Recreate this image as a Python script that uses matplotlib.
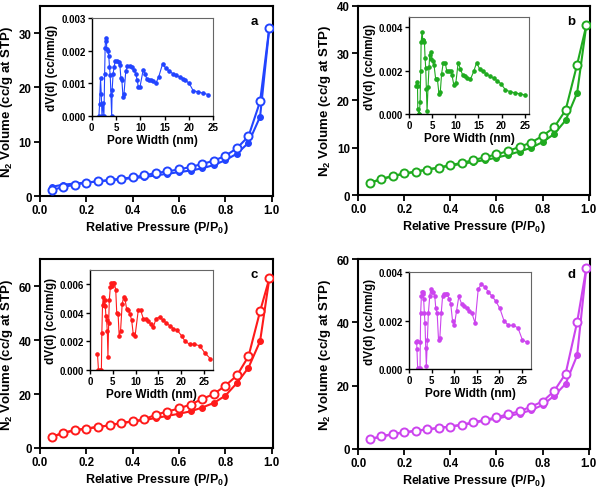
import matplotlib
matplotlib.use("Agg")
import matplotlib.pyplot as plt

plt.rcParams['font.family'] = ['Liberation Sans', 'DejaVu Sans']
plt.rcParams['font.weight'] = 'bold'
plt.rcParams['mathtext.fontset'] = 'custom'
plt.rcParams['mathtext.rm'] = 'Liberation Sans:bold'
plt.rcParams['mathtext.bf'] = 'Liberation Sans:bold'
plt.rcParams['mathtext.it'] = 'Liberation Sans:bold'
plt.rcParams['mathtext.default'] = 'bf'

# ---------------- data ----------------
pressure = [0.05, 0.10, 0.15, 0.20, 0.25, 0.30, 0.35, 0.40, 0.45, 0.50,
            0.55, 0.60, 0.65, 0.70, 0.75, 0.80, 0.85, 0.90, 0.95, 0.99]

a_open = [1.1, 1.66, 2.1, 2.46, 2.7, 2.95, 3.2, 3.44, 3.8, 4.24,
          4.55, 4.9, 5.35, 5.9, 6.5, 7.4, 8.8, 11.0, 17.4, 31.0]
a_fill = [1.7, 2.1, 2.3, 2.5, 2.7, 2.9, 3.1, 3.3, 3.5, 3.8,
          4.1, 4.4, 4.7, 5.1, 5.7, 6.6, 7.8, 9.8, 14.6, 31.0]

b_open = [2.5, 3.4, 4.0, 4.6, 4.95, 5.4, 5.8, 6.35, 6.8, 7.4,
          8.0, 8.6, 9.3, 10.2, 11.1, 12.5, 14.3, 17.95, 27.6, 35.9]
b_fill = [2.6, 3.4, 4.0, 4.5, 4.95, 5.4, 5.8, 6.2, 6.6, 7.0,
          7.4, 7.9, 8.5, 9.2, 10.0, 11.2, 12.9, 15.8, 21.6, 35.9]

c_open = [4.1, 5.6, 6.6, 7.2, 7.8, 8.4, 9.3, 9.9, 10.6, 12.4,
          13.5, 14.7, 16.1, 18.2, 20.0, 23.1, 26.9, 34.0, 50.7, 62.9]
c_fill = [4.1, 5.6, 6.6, 7.2, 7.8, 8.4, 9.2, 9.8, 10.4, 11.1,
          11.9, 12.7, 13.6, 15.0, 16.7, 19.4, 24.1, 29.8, 39.6, 62.9]

d_open = [3.1, 4.0, 4.75, 5.3, 5.8, 6.2, 6.65, 7.1, 7.7, 8.45,
          9.2, 10.0, 11.0, 11.9, 13.4, 15.0, 18.3, 23.8, 40.1, 57.3]
d_fill = [3.1, 3.9, 4.6, 5.2, 5.7, 6.2, 6.65, 7.1, 7.6, 8.2,
          9.0, 9.6, 10.35, 11.2, 12.25, 13.9, 16.8, 20.6, 29.6, 57.3]

# pore size distributions (pore width nm, dV(d) cc/nm/g)
a_w = [1.47, 1.6, 1.8, 1.95, 2.1, 2.3, 2.5, 2.65, 2.75, 2.85, 3.0, 3.1, 3.3, 3.5,
       3.65, 3.8, 3.95, 4.1, 4.2, 4.4, 4.6, 4.85, 5.25, 5.6, 5.8, 6.0, 6.2, 6.45,
       6.65, 7.0, 7.35, 7.8, 8.25, 8.7, 9.1, 9.35, 9.6, 9.95, 10.6, 11.0, 11.3,
       11.8, 12.2, 12.7, 13.2, 13.8, 14.6, 15.3, 15.9, 16.7, 17.4, 18.1, 18.9,
       19.3, 20.1, 20.9, 21.9, 23.0, 24.0]
a_dv = [0.0, 0.00036, 0.00116, 0.00068, 0.0, 0.0004, 0.0, 0.0013, 0.00208, 0.0024,
        0.0023, 0.00206, 0.00198, 0.00185, 0.0015, 0.00125, 0.00066, 0.0, 0.00081,
        0.0013, 0.0015, 0.0017, 0.0017, 0.00165, 0.00155, 0.00116, 0.0011, 0.00057,
        0.00069, 0.00137, 0.00152, 0.00152, 0.0015, 0.0014, 0.0013, 0.0011, 0.0009,
        0.0009, 0.00142, 0.0013, 0.00115, 0.0011, 0.0011, 0.00107, 0.001, 0.0012,
        0.0016, 0.00146, 0.00139, 0.0013, 0.00125, 0.0012, 0.00115, 0.0011, 0.001,
        0.00078, 0.00074, 0.0007, 0.00066]

b_w = [1.43, 1.65, 1.8, 1.86, 2.08, 2.2, 2.36, 2.5, 2.58, 2.8, 2.94, 3.08, 3.3, 3.44,
       3.58, 3.72, 3.87, 4.08, 4.3, 4.44, 4.66, 4.8, 5.1, 5.37, 5.73, 6.1, 6.45,
       6.73, 7.02, 7.38, 7.8, 8.17, 8.6, 8.95, 9.24, 9.67, 10.1, 10.6, 11.1, 11.6,
       12.1, 12.6, 13.25, 13.97, 14.6, 15.26, 16.0, 16.7, 17.5, 18.3, 19.05, 19.9,
       20.85, 21.9, 23.0, 24.0, 25.0]
b_dv = [0.00127, 0.00147, 0.0013, 0.00023, 0.0, 0.0, 0.00054, 0.002, 0.0033, 0.0038,
        0.0034, 0.0034, 0.0033, 0.0026, 0.0021, 0.00116, 0.00012, 0.00124, 0.00216,
        0.0027, 0.00286, 0.00255, 0.00244, 0.00227, 0.00162, 0.00162, 0.00093, 0.001,
        0.00185, 0.00236, 0.00235, 0.00196, 0.002, 0.002, 0.00182, 0.00134, 0.00142,
        0.00235, 0.00208, 0.00178, 0.00175, 0.00167, 0.00159, 0.00196, 0.00236,
        0.00208, 0.00196, 0.00185, 0.00175, 0.00164, 0.00154, 0.00139, 0.00111,
        0.00103, 0.00097, 0.00093, 0.00088]

c_w = [1.64, 1.86, 2.2, 2.5, 2.6, 2.75, 2.9, 3.05, 3.2, 3.35, 3.5, 3.64, 3.8, 3.94,
       4.1, 4.24, 4.46, 4.68, 4.9, 5.13, 5.35, 5.65, 5.87, 6.17, 6.4, 6.7, 7.06,
       7.36, 7.66, 8.03, 8.4, 8.77, 9.14, 9.5, 9.9, 10.6, 11.1, 11.7, 12.2, 12.8,
       13.4, 13.9, 14.5, 15.3, 16.0, 16.7, 17.5, 18.3, 19.1, 20.1, 20.9, 21.9,
       22.9, 24.1, 25.2, 26.4]
c_dv = [0.00112, 0.0, 0.0, 0.0, 0.0026, 0.00452, 0.0051, 0.00452, 0.0049, 0.0045,
        0.00376, 0.0035, 0.0027, 0.0009, 0.0033, 0.0049, 0.0058, 0.0061, 0.0059,
        0.0061, 0.0061, 0.0056, 0.004, 0.0039, 0.0024, 0.0027, 0.0046, 0.0051, 0.005,
        0.0043, 0.0042, 0.0039, 0.0035, 0.0025, 0.0024, 0.0042, 0.0042, 0.0036,
        0.0036, 0.0034, 0.0032, 0.003, 0.0036, 0.0037, 0.0035, 0.0033, 0.0031,
        0.0029, 0.0028, 0.0024, 0.002, 0.0018, 0.0018, 0.0017, 0.0012, 0.0008]

d_w = [1.42, 1.64, 1.72, 1.87, 2.0, 2.24, 2.4, 2.46, 2.54, 2.7, 2.84, 3.0, 3.13, 3.2,
       3.36, 3.5, 3.66, 3.8, 4.03, 4.25, 4.55, 4.78, 5.07, 5.37, 5.67, 5.9, 6.2,
       6.5, 6.8, 7.1, 7.4, 7.7, 8.06, 8.43, 8.8, 9.2, 9.6, 10.0, 10.5, 11.0, 11.6,
       12.2, 12.8, 13.3, 13.9, 14.6, 15.3, 16.0, 16.7, 17.5, 18.4, 19.2, 20.1,
       21.0, 22.0, 23.1, 24.1, 25.1, 26.2]
d_dv = [0.00112, 0.00115, 0.00082, 0.00004, 0.0, 0.0, 0.00005, 0.00112, 0.0023,
        0.003, 0.0032, 0.0032, 0.0031, 0.0029, 0.0023, 0.0019, 0.00088, 0.00011,
        0.0012, 0.0023, 0.003, 0.0033, 0.0032, 0.0032, 0.003, 0.0025, 0.0023, 0.0012,
        0.0013, 0.0023, 0.003, 0.0031, 0.0031, 0.0031, 0.0029, 0.0027, 0.002, 0.0018,
        0.0024, 0.003, 0.0027, 0.0026, 0.0025, 0.0024, 0.0023, 0.0019, 0.0033,
        0.0035, 0.0034, 0.0032, 0.003, 0.0028, 0.0025, 0.002, 0.0018, 0.0018, 0.0017,
        0.0012, 0.0011]

panels = [
    dict(letter='a', color='#2244ff', open=a_open, fill=a_fill, ylim=35, yticks=[0, 10, 20, 30],
         w=a_w, dv=a_dv, ixlim=25, iylim=0.003, iyticks=[0, 0.001, 0.002, 0.003],
         ax=[0.0667, 0.597, 0.388, 0.389], ins=[0.153, 0.7607, 0.202, 0.200]),
    dict(letter='b', color='#1faa1f', open=b_open, fill=b_fill, ylim=40, yticks=[0, 10, 20, 30, 40],
         w=b_w, dv=b_dv, ixlim=26, iylim=0.00446, iyticks=[0, 0.002, 0.004],
         ax=[0.597, 0.599, 0.386, 0.387], ins=[0.682, 0.7648, 0.200, 0.198]),
    dict(letter='c', color='#ff1a1a', open=c_open, fill=c_fill, ylim=70, yticks=[0, 20, 40, 60],
         w=c_w, dv=c_dv, ixlim=27, iylim=0.007, iyticks=[0, 0.002, 0.004, 0.006],
         ax=[0.0667, 0.0818, 0.388, 0.386], ins=[0.150, 0.2413, 0.205, 0.2045]),
    dict(letter='d', color='#cc44ee', open=d_open, fill=d_fill, ylim=60, yticks=[0, 20, 40, 60],
         w=d_w, dv=d_dv, ixlim=27, iylim=0.004, iyticks=[0, 0.002, 0.004],
         ax=[0.597, 0.0798, 0.386, 0.388], ins=[0.682, 0.2434, 0.203, 0.198]),
]

fig = plt.figure(figsize=(6.0, 4.89), dpi=100)

for p in panels:
    ax = fig.add_axes(p['ax'])
    col = p['color']
    ax.plot(pressure, p['fill'], '-o', color=col, lw=1.5, ms=4.0,
            mfc=col, mec=col, zorder=3)
    ax.plot(pressure, p['open'], '-o', color=col, lw=1.5, ms=5.8,
            mfc='white', mec=col, mew=1.4, zorder=4)
    ax.set_xlim(0, 1.005)
    ax.set_ylim(0, p['ylim'])
    ax.set_xticks([0, 0.2, 0.4, 0.6, 0.8, 1.0])
    ax.set_xticklabels(['0.0', '0.2', '0.4', '0.6', '0.8', '1.0'])
    ax.set_yticks(p['yticks'])
    ax.tick_params(direction='out', length=4, width=1.3, labelsize=8.3, pad=2)
    for s in ax.spines.values():
        s.set_linewidth(1.5)
    ax.set_xlabel('Relative Pressure (P/P$_0$)', fontsize=9, fontweight='bold', labelpad=2)
    ax.set_ylabel('N$_2$ Volume (cc/g at STP)', fontsize=9.5, fontweight='bold', labelpad=3)
    ax.text(0.92, 0.92, p['letter'], transform=ax.transAxes, fontsize=9.5,
            fontweight='bold', ha='center', va='center')

    ins = fig.add_axes(p['ins'])
    ins.plot(p['w'], p['dv'], '-o', color=col, lw=0.8, ms=2.3, mec=col, mfc=col)
    ins.set_xlim(0, p['ixlim'])
    ins.set_ylim(0, p['iylim'])
    ins.set_xticks([0, 5, 10, 15, 20, 25])
    ins.set_yticks(p['iyticks'])
    ins.set_yticklabels(['%.3f' % v for v in p['iyticks']])
    ins.tick_params(direction='out', length=3, width=1.0, labelsize=7, pad=1.5)
    ins.spines['left'].set_linewidth(1.0)
    ins.spines['bottom'].set_linewidth(1.0)
    ins.spines['top'].set_color('#666666')
    ins.spines['right'].set_color('#666666')
    ins.spines['top'].set_linewidth(0.8)
    ins.spines['right'].set_linewidth(0.8)
    ins.set_xlabel('Pore Width (nm)', fontsize=8.5, fontweight='bold', labelpad=1)
    ins.set_ylabel('dV(d) (cc/nm/g)', fontsize=8.5, fontweight='bold', labelpad=2)

fig.savefig('out.png', dpi=100)
